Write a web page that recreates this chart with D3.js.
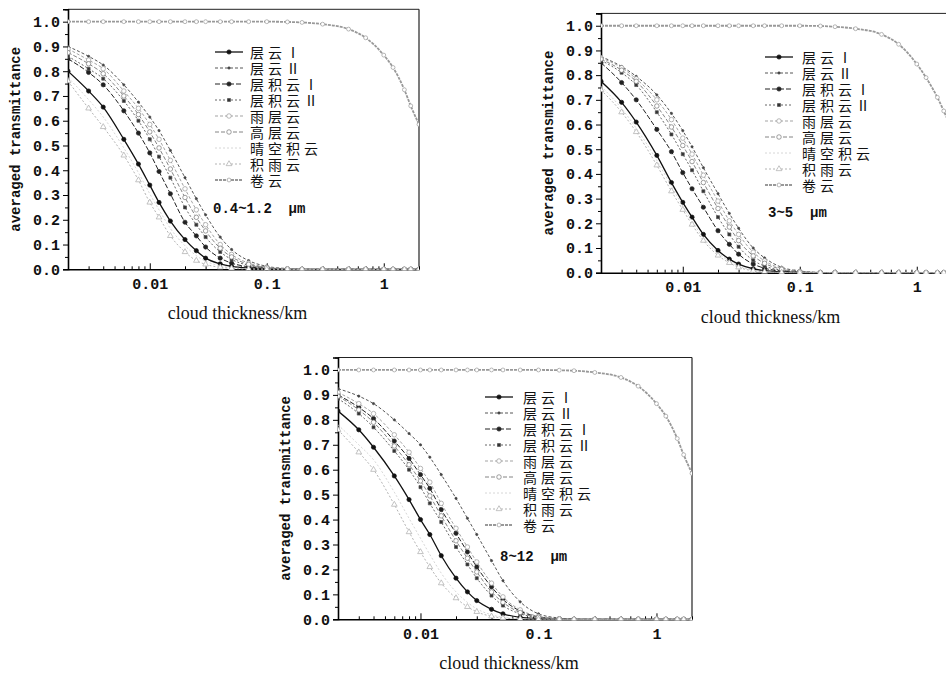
<!DOCTYPE html>
<html lang="zh">
<head>
<meta charset="UTF-8"/>
<title>averaged transmittance vs cloud thickness</title>
<script src="https://d3js.org/d3.v7.min.js"></script>
<style>
  body { margin: 0; background: #fff; }
  svg { display: block; }
  .num { font-family: "Liberation Mono", "DejaVu Sans Mono", monospace; font-weight: bold; font-size: 15px; fill: #111; }
  .ylab { font-family: "Liberation Mono", "DejaVu Sans Mono", monospace; font-weight: bold; font-size: 14px; fill: #111; }
  .xlab { font-family: "Liberation Serif", serif; font-size: 18px; fill: #111; }
  .leg { font-family: "Noto Sans CJK SC", sans-serif; font-size: 14px; letter-spacing: 4px; fill: #111; }
  .band { font-family: "Liberation Mono", monospace; font-weight: bold; font-size: 14px; fill: #111; }
</style>
</head>
<body>
<div id="chart"></div>
<script>
// cloud thickness (km) where values were read
var thickness = [0.002, 0.003, 0.004, 0.006, 0.008, 0.01, 0.012, 0.015, 0.02, 0.025, 0.03, 0.04, 0.05,
                 0.07, 0.1, 0.15, 0.2, 0.3, 0.5, 0.7, 1, 1.2, 1.5, 1.7, 2];

var cloudNames = ["层云Ⅰ", "层云Ⅱ", "层积云Ⅰ", "层积云Ⅱ", "雨层云", "高层云", "晴空积云", "积雨云", "卷云"];

var bandLabels = ["0.4~1.2 μm", "3~5 μm", "8~12 μm"];
var yTicks = [0, 0.1, 0.2, 0.3, 0.4, 0.5, 0.6, 0.7, 0.8, 0.9, 1.0];
var xTicks = [0.01, 0.1, 1];

// 0.4~1.2 um
var visStI   = [0.80,0.72,0.655,0.525,0.425,0.34,0.27,0.195,0.12,0.075,0.045,0.022,0.012,0.005,0.002,0,0,0,0,0,0,0,0,0,0];
var visStII  = [0.90,0.86,0.825,0.745,0.675,0.615,0.56,0.48,0.37,0.285,0.22,0.13,0.08,0.035,0.012,0.003,0,0,0,0,0,0,0,0,0];
var visScI   = [0.85,0.795,0.745,0.64,0.55,0.47,0.395,0.305,0.19,0.135,0.09,0.045,0.025,0.01,0.004,0.001,0,0,0,0,0,0,0,0,0];
var visScII  = [0.86,0.81,0.77,0.68,0.60,0.525,0.455,0.37,0.25,0.18,0.13,0.07,0.04,0.016,0.006,0.001,0,0,0,0,0,0,0,0,0];
var visNs    = [0.89,0.845,0.81,0.72,0.65,0.585,0.525,0.44,0.325,0.24,0.18,0.10,0.06,0.025,0.009,0.002,0,0,0,0,0,0,0,0,0];
var visAs    = [0.875,0.83,0.79,0.70,0.625,0.555,0.49,0.405,0.29,0.21,0.155,0.085,0.05,0.02,0.007,0.002,0,0,0,0,0,0,0,0,0];
var visCu    = [0.775,0.685,0.615,0.49,0.39,0.305,0.24,0.165,0.095,0.055,0.033,0.014,0.007,0.002,0.001,0,0,0,0,0,0,0,0,0,0];
var visCb    = [0.76,0.65,0.575,0.46,0.36,0.27,0.21,0.135,0.07,0.035,0.02,0.008,0.004,0.001,0,0,0,0,0,0,0,0,0,0,0];
var visCi    = [1,1,1,1,1,1,1,1,1,1,1,1,1,1,1,0.999,0.997,0.99,0.97,0.935,0.865,0.815,0.725,0.66,0.585];

// 3~5 um
var mirStI   = [0.775,0.69,0.61,0.475,0.365,0.285,0.225,0.155,0.09,0.055,0.035,0.016,0.008,0.003,0.001,0,0,0,0,0,0,0,0,0,0];
var mirStII  = [0.875,0.835,0.795,0.72,0.645,0.575,0.51,0.425,0.32,0.24,0.18,0.10,0.06,0.022,0.007,0.001,0,0,0,0,0,0,0,0,0];
var mirScI   = [0.85,0.77,0.70,0.58,0.49,0.405,0.34,0.265,0.17,0.115,0.075,0.035,0.018,0.007,0.002,0,0,0,0,0,0,0,0,0,0];
var mirScII  = [0.86,0.81,0.76,0.65,0.56,0.48,0.415,0.33,0.225,0.155,0.105,0.05,0.027,0.01,0.003,0,0,0,0,0,0,0,0,0,0];
var mirNs    = [0.87,0.83,0.785,0.70,0.62,0.545,0.48,0.395,0.29,0.21,0.155,0.083,0.048,0.017,0.005,0.001,0,0,0,0,0,0,0,0,0];
var mirAs    = [0.865,0.82,0.775,0.675,0.59,0.515,0.45,0.365,0.26,0.185,0.13,0.068,0.038,0.014,0.004,0.001,0,0,0,0,0,0,0,0,0];
var mirCu    = [0.755,0.665,0.585,0.455,0.35,0.27,0.21,0.14,0.08,0.047,0.027,0.01,0.005,0.001,0,0,0,0,0,0,0,0,0,0,0];
var mirCb    = [0.74,0.65,0.57,0.435,0.33,0.255,0.195,0.13,0.07,0.04,0.022,0.008,0.004,0.001,0,0,0,0,0,0,0,0,0,0,0];
var mirCi    = [1,1,1,1,1,1,1,1,1,1,1,1,1,1,1,0.999,0.996,0.988,0.965,0.925,0.845,0.79,0.71,0.655,0.58];

// 8~12 um
var tirStI   = [0.835,0.76,0.69,0.575,0.48,0.40,0.34,0.255,0.165,0.11,0.075,0.04,0.022,0.008,0.003,0.001,0,0,0,0,0,0,0,0,0];
var tirStII  = [0.925,0.895,0.865,0.80,0.745,0.70,0.65,0.58,0.485,0.405,0.34,0.235,0.155,0.07,0.022,0.005,0.001,0,0,0,0,0,0,0,0];
var tirScI   = [0.90,0.85,0.805,0.715,0.645,0.58,0.525,0.44,0.345,0.27,0.21,0.13,0.08,0.033,0.01,0.002,0,0,0,0,0,0,0,0,0];
var tirScII  = [0.885,0.825,0.77,0.675,0.60,0.53,0.465,0.39,0.29,0.22,0.165,0.095,0.055,0.022,0.007,0.001,0,0,0,0,0,0,0,0,0];
var tirNs    = [0.91,0.865,0.825,0.74,0.67,0.605,0.55,0.465,0.365,0.29,0.23,0.145,0.09,0.038,0.012,0.002,0,0,0,0,0,0,0,0,0];
var tirAs    = [0.895,0.84,0.79,0.695,0.62,0.555,0.495,0.415,0.315,0.245,0.19,0.11,0.068,0.027,0.008,0.002,0,0,0,0,0,0,0,0,0];
var tirCu    = [0.78,0.70,0.64,0.51,0.405,0.325,0.26,0.185,0.11,0.068,0.042,0.018,0.008,0.003,0.001,0,0,0,0,0,0,0,0,0,0];
var tirCb    = [0.76,0.67,0.60,0.46,0.35,0.27,0.21,0.145,0.085,0.05,0.03,0.012,0.005,0.002,0,0,0,0,0,0,0,0,0,0,0];
var tirCi    = [1,1,1,1,1,1,1,1,1,1,1,1,1,1,1,0.999,0.997,0.99,0.97,0.935,0.865,0.815,0.725,0.66,0.585];

var visSeries = [visStI, visStII, visScI, visScII, visNs, visAs, visCu, visCb, visCi];
var mirSeries = [mirStI, mirStII, mirScI, mirScII, mirNs, mirAs, mirCu, mirCb, mirCi];
var tirSeries = [tirStI, tirStII, tirScI, tirScII, tirNs, tirAs, tirCu, tirCb, tirCi];

// line / marker look of each cloud type
var styles = [
  {stroke:"#111", width:1.3, dash:null,  symbol:d3.symbolCircle,   size:14, fill:"#111"},
  {stroke:"#444", width:0.9, dash:"3,2", symbol:d3.symbolCircle,   size:4,  fill:"#444"},
  {stroke:"#222", width:1.0, dash:"5,2", symbol:d3.symbolCircle,   size:14, fill:"#222"},
  {stroke:"#555", width:0.9, dash:"2,2", symbol:d3.symbolSquare,   size:9,  fill:"#333"},
  {stroke:"#999", width:0.9, dash:"3,2", symbol:d3.symbolCircle,   size:16, fill:"#fff"},
  {stroke:"#777", width:0.9, dash:"4,2", symbol:d3.symbolCircle,   size:16, fill:"#fff"},
  {stroke:"#ccc", width:0.8, dash:"2,2", symbol:null},
  {stroke:"#aaa", width:0.9, dash:"2,2", symbol:d3.symbolTriangle, size:14, fill:"#fff"},
  {stroke:"#999", width:1.8, dash:"3,1", symbol:d3.symbolCircle,   size:12, fill:"#fff"}
];

var w = 946, h = 674;

var svg = d3.select("#chart").append("svg")
  .attr("width", w)
  .attr("height", h);

var panels = [
  {x:68,  y:9.3,   w:351, h:260,   series:visSeries, band:bandLabels[0], bandX:213, bandY:213,
   legX:215, legY:52,  legTxt:35, rightBorder:true},
  {x:601, y:13.4,  w:351, h:259.3, series:mirSeries, band:bandLabels[1], bandX:768, bandY:217,
   legX:765, legY:57,  legTxt:37, rightBorder:false},
  {x:338, y:357.5, w:354, h:261.8, series:tirSeries, band:bandLabels[2], bandX:500, bandY:561,
   legX:485, legY:397, legTxt:38, rightBorder:true}
];

function drawPanel(p, k) {
  var g = svg.append("g").attr("transform", "translate(" + p.x + "," + p.y + ")");

  var x = d3.scaleLog().domain([0.002, 2]).range([0, p.w]);
  var y = d3.scaleLinear().domain([0, 1.05]).range([p.h, 0]);

  g.append("clipPath").attr("id", "clip" + k)
    .append("rect").attr("x", 0).attr("y", 0).attr("width", p.w).attr("height", p.h + 1);

  // frame
  g.append("line").attr("x1", 0).attr("x2", p.w).attr("y1", 0).attr("y2", 0)
    .attr("stroke", "#222").attr("stroke-width", 1);
  if (p.rightBorder) {
    g.append("line").attr("x1", p.w).attr("x2", p.w).attr("y1", 0).attr("y2", p.h)
      .attr("stroke", "#222").attr("stroke-width", 1.2);
  }

  // y axis, ticks pointing out
  var yAxis = g.append("g")
    .call(d3.axisLeft(y).tickValues(yTicks).tickFormat(d3.format(".1f")).tickSize(5).tickPadding(3));
  yAxis.selectAll("text").attr("class", "num");
  yAxis.select(".domain").attr("stroke-width", 1.6);
  g.append("g")
    .call(d3.axisLeft(y).tickValues(d3.range(0.05, 1.06, 0.1)).tickFormat("").tickSize(3))
    .select(".domain").remove();

  // x axis, ticks pointing in
  var minor = [];
  [0.001, 0.01, 0.1, 1].forEach(function(d) {
    for (var m = 2; m <= 9; m++) {
      var v = d * m;
      if (v >= 0.002 && v <= 2) minor.push(v);
    }
  });
  var xAxis = g.append("g").attr("transform", "translate(0," + p.h + ")")
    .call(d3.axisBottom(x).tickValues(xTicks).tickFormat(d3.format("~g")).tickSizeInner(-6).tickSizeOuter(0).tickPadding(9));
  xAxis.selectAll("text").attr("class", "num");
  xAxis.select(".domain").attr("stroke-width", 1.6);
  g.append("g").attr("transform", "translate(0," + p.h + ")")
    .call(d3.axisBottom(x).tickValues(minor).tickFormat("").tickSizeInner(-3).tickSizeOuter(0))
    .select(".domain").remove();

  // curves
  var plot = g.append("g").attr("clip-path", "url(#clip" + k + ")");
  var line = d3.line()
    .x(function(d, i) { return x(thickness[i]); })
    .y(function(d) { return y(d); })
    .curve(d3.curveMonotoneX);

  p.series.forEach(function(vals, s) {
    var st = styles[s];
    plot.append("path")
      .attr("d", line(vals))
      .attr("fill", "none")
      .attr("stroke", st.stroke)
      .attr("stroke-width", st.width)
      .attr("stroke-dasharray", st.dash);
    if (st.symbol) {
      plot.selectAll(null).data(vals).enter().append("path")
        .attr("d", d3.symbol().type(st.symbol).size(st.size))
        .attr("transform", function(d, i) { return "translate(" + x(thickness[i]) + "," + y(d) + ")"; })
        .attr("fill", st.fill)
        .attr("stroke", st.stroke)
        .attr("stroke-width", 0.7);
    }
  });

  // axis titles
  g.append("text").attr("class", "ylab")
    .attr("transform", "translate(-52," + (p.h / 2) + ") rotate(-90)")
    .attr("text-anchor", "middle")
    .attr("dominant-baseline", "central")
    .text("averaged transmittance");
  g.append("text").attr("class", "xlab")
    .attr("x", p.w / 2 - 6)
    .attr("y", p.h + 50)
    .attr("text-anchor", "middle")
    .text("cloud thickness/km");

  // legend (absolute coords)
  var leg = svg.append("g");
  cloudNames.forEach(function(name, s) {
    var st = styles[s];
    var ly = p.legY + s * 16;
    leg.append("line")
      .attr("x1", p.legX).attr("x2", p.legX + 28)
      .attr("y1", ly).attr("y2", ly)
      .attr("stroke", st.stroke)
      .attr("stroke-width", st.width)
      .attr("stroke-dasharray", st.dash);
    if (st.symbol) {
      leg.append("path")
        .attr("d", d3.symbol().type(st.symbol).size(st.size))
        .attr("transform", "translate(" + (p.legX + 14) + "," + ly + ")")
        .attr("fill", st.fill)
        .attr("stroke", st.stroke)
        .attr("stroke-width", 0.7);
    }
    leg.append("text").attr("class", "leg")
      .attr("x", p.legX + p.legTxt)
      .attr("y", ly)
      .attr("dominant-baseline", "central")
      .text(name);
  });

  svg.append("text").attr("class", "band")
    .attr("x", p.bandX)
    .attr("y", p.bandY)
    .style("white-space", "pre")
    .text(p.band.replace(" ", "  "));
}

panels.forEach(drawPanel);
</script>
</body>
</html>
